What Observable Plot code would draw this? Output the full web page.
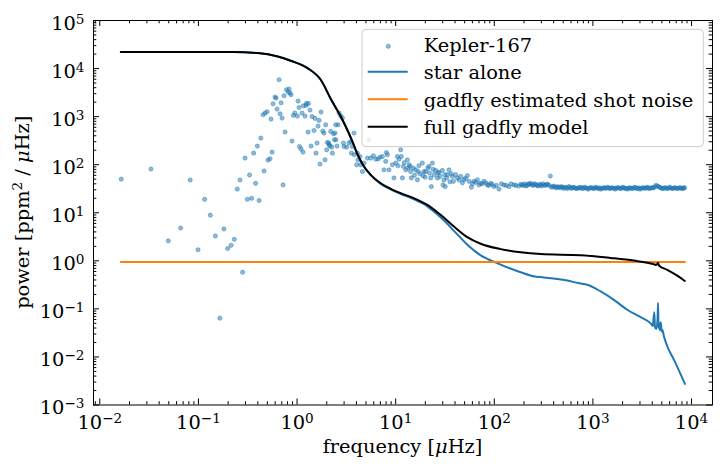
<!DOCTYPE html>
<html><head><meta charset="utf-8">
<script src="https://cdn.jsdelivr.net/npm/d3@7"></script>
<script src="https://cdn.jsdelivr.net/npm/@observablehq/plot@0.6"></script>
<style>
html,body{margin:0;padding:0;background:#fff;}
#chart svg{display:block;font-family:"DejaVu Serif",serif;}
</style></head><body><div id="chart"></div>
<script>
// ---- Data ----
const scatterFreq = [
0.0165,0.033,0.0495,0.066,0.0825,0.099,0.1155,0.132,0.1485,0.165,0.1815,0.198,0.2145,0.231,0.2475,0.264,0.2805,0.297,0.3135,0.33,0.3465,0.363,0.38,0.396,0.4125,
0.429,0.452,0.463,0.474,0.497,0.508,0.532,0.545,0.558,0.571,0.598,0.613,0.627,0.657,0.673,0.689,0.705,0.721,0.738,0.756,0.781,0.811,0.830,0.849,0.869,0.890,0.919,0.948,
1.009,1.024,1.048,1.058,1.098,1.124,1.150,1.161,1.205,1.234,1.245,1.293,1.305,1.354,1.387,1.419,1.487,1.522,1.558,1.595,1.633,1.671,1.711,1.751,1.822,1.877,1.922,1.954,
2.000,2.033,2.096,2.110,2.160,2.195,2.247,2.284,2.338,2.393,2.427,2.467,2.48,2.543,2.603,2.665,2.773,2.885,2.953,2.995,3.189,3.365,3.502,3.560,3.644,3.78,3.80,
4.027,4.094,4.152,4.350,4.421,4.600,4.775,5.170,5.367,5.584,5.947,6.275,6.622,6.938,7.337,7.616,7.925,8.054,8.245,8.558,9.266,9.618,
10.01,10.41,10.56,11.25,11.4,11.70,11.98,12.64,13.15,13.34,14.0,14.2,14.4,15.12,15.96,16.61,16.84,17.64,18.66,18.9,19.37,20.16,21.77,22.0,22.65,23.0,23.56,24.46,25.45,26.48,26.8,28.14,29.76,30.2,31.40,31.8,32.90,33.44,34.72,37.58,42.23,45.62,49.26,53.33,58.56,62.23,67.36,72.75,78.59,85.06,91.86,99.2,
111.5,125.3,140.8,158.2,177.8,186,197,209,221,234,248,262,278,294,311,330,349,370,391,414,439,465,492,521,552,584,619,655,694,735,778,824,873,924,979,
1037,1098,1163,1231,1304,1381,1462,1549,1640,1737,1840,1948,2063,2185,2314,2451,2595,2749,2911,3083,3265,3458,3662,3878,4107,4350,4607,4879,5167,5472,5795,6137,6500,6884,7290,7721,8177,8500,
10.8,12.2,13.7,15.5,17.2,19.9,21.2,24,27.5,30.8,35.5,36.5,38.5,40.5,44,47.5,51,55.5,60,65,70,75.5,82,88,95,105,118,132,148,166,
191,203,215,227,241,255,270,286,302,320,339,359,380,402,426,452,478,506,536,568,601,637,674,714,756,801,848,898,951,1007,1067,1130,1197,1267,1342,1421,1505,1594,1688,1788,1894,2005,2124,2249,2382,2523,2672,2830,2997,3174,3361,3560,3770,3992,4228,4478,4742,5022,5319,5633,5965,6318,6691,7086,7504,7947,8340];
const scatterPower = [
50,81,2.6,4.8,48,1.7,19,8.9,3.3,0.064,4.6,1.8,2.1,2.8,31,48,0.58,137,19,61,20,174,41,244,18,
358,1093,74,1186,1262,125,133,889,183,1850,2553,2432,1436,5848,1146,1941,933,38,2716,477,3622,3243,3743,3090,2851,310,1057,1186,
1026,2107,1549,239,211,1186,183,1682,1026,1706,1879,477,1879,1368,244,1007,515,916,174,282,636,832,103,1244,500,455,126,676,
204,290,282,260,247,491,232,174,440,330,455,676,330,244,676,1186,1042,933,282,239,232,282,304,174,239,455,161,
99.5,174,126,148,99.5,72,108,137,330,137,153,131,131,144,148,78,117,179,161,78,99.5,53,
108,148,95,204,148,53,92,78,126,85,92,72,53,85,78,48.5,72,65,108,59,72,72,92,67,53,35,108,62,76,53,67,57,76,38,62,35,53,62,78,57,53,57,48.5,59,34,45,48.5,41,45,38,41,35,
31,38,35,38,36,39,37,36,40,41,37,39,36,38,40,37,39,58,35,34,35,33,34,34,32,34,33,33,32,33,32,34,32,33,33,
32,33,33,32,33,33,32,33,32,33,33,32,33,32,33,32,33,32,33,32,33,33,32,33,33,37,35,33,32,33,32,33,32,33,32,33,32,33,
130,110,100,60,95,55,85,80,70,48,44,65,45,62,48,42,52,45,40,43,38,40,42,37,39,37,40,37,40,37,
38,40,37,39,38,40,37,39,36,38,39,37,34,36,33,34,35,32,33,35,32,34,32,33,34,32,33,31,33,32,34,32,31,33,32,34,32,33,31,33,32,34,32,31,33,32,34,32,31,33,32,34,32,33,34,36,34,32,33,32,34,32,33,32,33,32,33];

const modelFreq = [0.01633,0.2283,0.3995,0.6375,0.8631,1.275,1.739,2.222,2.773,3.116,3.584,4.123,4.634,5.585,7.053,8.906,11.25,15.23,20.97,28.5,39.0,53.3,72.8,116,185,295,750,1510,2600,4150,4400,4570,4700,5680,7170,8550];
const modelPower = [22030,22030,21020,17860,14530,10240,5848,2243,1007,624,330,161,101,61.6,41.0,31.5,25.6,20.2,14.6,9.06,5.17,3.11,2.26,1.75,1.50,1.38,1.31,1.15,1.01,0.85,0.82,0.90,0.79,0.65,0.49,0.38];

const starFreq = [0.01633,0.2283,0.3995,0.6375,0.8631,1.275,1.739,2.222,2.773,3.116,3.584,4.123,4.634,5.585,7.053,8.906,11.25,15.23,20.97,24.3,28.5,33.4,39.0,45.6,53.3,62.2,72.8,85,100,116,185,257,295,550,711,877,1200,1630,2230,3050,3850,4050,4190,4260,4400,4520,4580,4630,4700,4780,4880,4980,5080,5250,5690,6640,8570];
const starPower = [22030,22030,21020,17860,14530,10240,5847,2242,1006,623,329,160,100,60.6,40.0,30.5,24.6,19.2,13.6,10.7,8.1,5.9,4.2,3.0,2.15,1.65,1.3,1.1,0.95,0.83,0.58,0.47,0.458,0.389,0.344,0.317,0.230,0.154,0.096,0.067,0.050,0.044,0.085,0.042,0.038,0.060,0.132,0.040,0.050,0.036,0.053,0.034,0.036,0.027,0.0165,0.0087,0.00275];

const shotNoiseFreq = [0.01633, 8550];
const shotNoisePower = [0.95, 0.95];

const xMajorTicks = [1e-2, 1e-1, 1, 10, 100, 1000, 10000];
const yMajorTicks = [1e-3, 1e-2, 1e-1, 1, 10, 100, 1000, 10000, 100000];
const legendLabels = ["Kepler-167", "star alone", "gadfly estimated shot noise", "full gadfly model"];

// ---- Build tables ----
const scatter = scatterFreq.map((f, i) => ({f, p: scatterPower[i]}));
const model = modelFreq.map((f, i) => ({f, p: modelPower[i]}));
const star = starFreq.map((f, i) => ({f, p: starPower[i]}));
const shot = shotNoiseFreq.map((f, i) => ({f, p: shotNoisePower[i]}));

function minorsOf(majors) {
  const out = [];
  for (let i = 0; i < majors.length - 1; i++) for (let k = 2; k <= 9; k++) out.push(majors[i] * k);
  return out;
}
const xMinorTicks = minorsOf([1e-3, ...xMajorTicks]).filter(v => v > 0.00863 && v < 16320);
const yMinorTicks = minorsOf(yMajorTicks);

const W = 722, H = 470, mL = 93, mR = 10, mT = 20, mB = 65.5;
const innerW = W - mL - mR, innerH = H - mT - mB;
const BLUE = "#1f77b4", ORANGE = "#ff7f0e";
const supFmt = d => "10^" + Math.round(Math.log10(d));
const tick = {stroke: "black", strokeWidth: 1};

const chart = Plot.plot({
  width: W, height: H,
  marginLeft: mL, marginRight: mR, marginTop: mT, marginBottom: mB,
  style: {fontFamily: "DejaVu Serif", fontSize: "19.4px", background: "white", color: "black"},
  x: {type: "log", domain: [0.00863, 16320], label: null},
  y: {type: "log", domain: [1e-3, 1e5], label: null},
  marks: [
    Plot.dot(scatter, {x: "f", y: "p", r: 2.1, fill: BLUE, fillOpacity: 0.5, stroke: BLUE, strokeOpacity: 0.5, strokeWidth: 0.9}),
    Plot.line(star, {x: "f", y: "p", stroke: BLUE, strokeWidth: 2, curve: "monotone-x"}),
    Plot.line(shot, {x: "f", y: "p", stroke: ORANGE, strokeWidth: 2}),
    Plot.line(model, {x: "f", y: "p", stroke: "black", strokeWidth: 2, curve: "monotone-x"}),
    Plot.frame({stroke: "black", strokeWidth: 1}),
    Plot.tickX(xMajorTicks, {insetTop: innerH - 6, ...tick}),
    Plot.tickX(xMajorTicks, {insetBottom: innerH - 6, ...tick}),
    Plot.tickX(xMinorTicks, {insetTop: innerH - 3.3, ...tick}),
    Plot.tickX(xMinorTicks, {insetBottom: innerH - 3.3, ...tick}),
    Plot.tickY(yMajorTicks, {insetRight: innerW - 6, ...tick}),
    Plot.tickY(yMajorTicks, {insetLeft: innerW - 6, ...tick}),
    Plot.tickY(yMinorTicks, {insetRight: innerW - 3.3, ...tick}),
    Plot.tickY(yMinorTicks, {insetLeft: innerW - 3.3, ...tick}),
    Plot.axisX(xMajorTicks, {tickSize: 0, tickPadding: 10.5, tickFormat: supFmt, fontSize: 19.4}),
    Plot.axisY(yMajorTicks, {tickSize: 0, tickPadding: 9, dy: 3, tickFormat: supFmt, fontSize: 19.4})
  ]
});
document.getElementById("chart").appendChild(chart);

const svg = d3.select(chart.tagName.toLowerCase() === "svg" ? chart : chart.querySelector("svg"));

// superscript exponents in tick labels
svg.selectAll('g[aria-label="x-axis tick label"] text, g[aria-label="y-axis tick label"] text').each(function() {
  const m = this.textContent.match(/^10\^(-?\d+)$/);
  if (!m) return;
  const t = d3.select(this);
  t.text(null);
  t.append("tspan").text("10");
  t.append("tspan").attr("dy", "-0.45em").attr("font-size", "70%").text(m[1].replace("-", "\u2212"));
});

const font = "DejaVu Serif";
// x axis label
const xl = svg.append("text").attr("x", mL + innerW / 2).attr("y", 453.3)
  .attr("text-anchor", "middle").attr("font-family", font).attr("font-size", 19.4).attr("fill", "black");
xl.append("tspan").text("frequency [");
xl.append("tspan").attr("font-style", "italic").text("μ");
xl.append("tspan").text("Hz]");

// y axis label
const yl = svg.append("text").attr("transform", `translate(28.5,${mT + innerH / 2}) rotate(-90)`)
  .attr("text-anchor", "middle").attr("font-family", font).attr("font-size", 19.4).attr("fill", "black");
yl.append("tspan").text("power [ppm");
yl.append("tspan").attr("dy", "-0.45em").attr("font-size", "70%").text("2");
yl.append("tspan").attr("dy", "0.315em").text(" / ");
yl.append("tspan").attr("font-style", "italic").text("μ");
yl.append("tspan").text("Hz]");

// legend
const lg = svg.append("g").attr("font-family", font).attr("font-size", 19.4).attr("text-anchor", "start");
lg.append("rect").attr("x", 362).attr("y", 29.3).attr("width", 341.3).attr("height", 117.4).attr("rx", 4)
  .attr("fill", "white").attr("fill-opacity", 0.8).attr("stroke", "#cccccc").attr("stroke-width", 1);
const rowY = [44.3, 71.8, 99.3, 126.8];
const rowColor = [BLUE, BLUE, ORANGE, "black"];
legendLabels.forEach((lab, i) => {
  if (i === 0) {
    lg.append("circle").attr("cx", 388.3).attr("cy", rowY[i] + 2).attr("r", 2.1)
      .attr("fill", BLUE).attr("fill-opacity", 0.5).attr("stroke", BLUE).attr("stroke-opacity", 0.5).attr("stroke-width", 0.9);
  } else {
    lg.append("line").attr("x1", 367.7).attr("x2", 407.7).attr("y1", rowY[i]).attr("y2", rowY[i])
      .attr("stroke", rowColor[i]).attr("stroke-width", 2);
  }
  lg.append("text").attr("x", 423.7).attr("y", rowY[i] + 7.3).attr("text-anchor", "start").attr("font-family", font).attr("fill", "black").text(lab);
});
</script></body></html>
